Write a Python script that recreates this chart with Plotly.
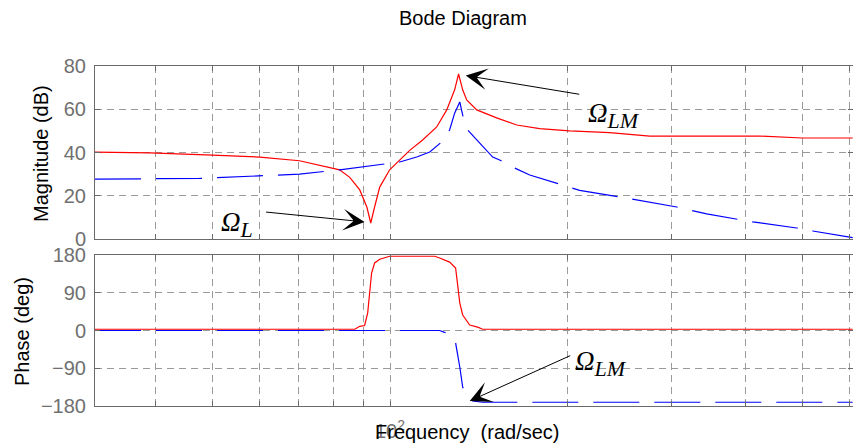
import numpy as np
import plotly.graph_objects as go

# ---------------- data ----------------
# Red: magnitude (dB) vs frequency (rad/s)
red_mag_w = [31.6, 39.1, 50.0, 60.1, 70.2, 79.0, 82.1, 85.4, 88.8, 91.3, 92.7, 94.1,
             96.0, 99.8, 103.8, 107.9, 113.5, 119.9, 124.7, 128.6, 130.6, 132.7,
             134.8, 140.2, 151.5, 163.9, 179.2, 201.5, 235.5, 275.4, 334.6, 423.0,
             500.2, 608.0]
red_mag_db = [40.2, 39.8, 38.8, 37.9, 36.2, 33.3, 32.0, 28.5, 22.7, 14.8, 7.4, 14.8,
              24.0, 32.0, 36.5, 41.0, 45.8, 51.8, 59.7, 69.0, 76.3, 69.0,
              64.3, 59.7, 56.0, 52.7, 51.0, 50.0, 49.2, 47.6, 47.6, 47.6,
              46.7, 46.7]

# Blue: magnitude (dB)
blue_mag_w = [31.6, 47.5, 70.2, 82.1, 97.9, 103.8, 110.9, 116.7, 122.3, 126.1, 128.6,
              131.2, 132.7, 135.3, 140.2, 149.2, 153.3, 162.6, 172.4, 209.5, 256.7,
              305.9, 343.9, 411.5, 488.7, 520.2, 608.0]
blue_mag_db = [27.7, 28.0, 30.0, 32.0, 34.7, 35.6, 37.9, 40.2, 44.9, 50.4, 58.2,
               63.4, 57.3, 50.4, 45.8, 37.9, 36.5, 32.8, 29.6, 22.5, 18.5,
               14.8, 11.6, 7.9, 5.1, 3.7, 0.6]

# Red: phase (deg)
red_ph_w = [31.6, 87.1, 88.8, 90.5, 91.6, 92.3, 93.0, 94.1, 96.0, 99.8, 119.0, 121.3,
            126.1, 129.1, 130.1, 131.2, 132.7, 136.4, 140.7, 143.5, 608.0]
red_ph_deg = [3, 3, 10, 12, 42, 97, 137, 161, 170, 177, 177, 173,
              163, 149, 104, 66, 37, 13, 8, 3, 3]

# Blue: phase (deg)
blue_ph_w = [31.6, 121.3, 123.3, 125.2, 127.1, 129.1, 131.2, 132.7, 135.3, 138.0, 143.5, 608.0]
blue_ph_deg = [0, 0, -4, -6, -15, -30, -87, -135, -160, -168, -171, -171]

# axes
grid_w = [40, 50, 60, 70, 80, 90, 100, 200, 300, 400, 500, 600]
mag_ticks = [0, 20, 40, 60, 80]
phase_ticks = [-180, -90, 0, 90, 180]

# ---------------- figure ----------------
W, H = 853, 446
ML, MR, MT, MB = 95, 0, 66, 40
plot_w = W - ML - MR
plot_h = H - MT - MB
px_per_decade = 590.0
x_lo = np.log10(31.6)
x_hi = x_lo + plot_w / px_per_decade

def ypaper(py):
    return (H - MB - py) / plot_h

RED = "#ff0000"
BLUE = "#0000ff"
AXC = "#6a6a6a"
GRIDC = "#9a9a9a"
TICKF = dict(family="Arial, Liberation Sans, sans-serif", size=20, color="#707070")

fig = go.Figure()
fig.add_trace(go.Scatter(x=red_mag_w, y=red_mag_db, mode="lines",
                         line=dict(color=RED, width=1.2), xaxis="x", yaxis="y", showlegend=False))
fig.add_trace(go.Scatter(x=blue_mag_w, y=blue_mag_db, mode="lines",
                         line=dict(color=BLUE, width=1.2, dash="46px,15px"),
                         xaxis="x", yaxis="y", showlegend=False))
fig.add_trace(go.Scatter(x=red_ph_w, y=red_ph_deg, mode="lines",
                         line=dict(color=RED, width=1.2), xaxis="x2", yaxis="y2", showlegend=False))
fig.add_trace(go.Scatter(x=blue_ph_w, y=blue_ph_deg, mode="lines",
                         line=dict(color=BLUE, width=1.2, dash="46px,15px"),
                         xaxis="x2", yaxis="y2", showlegend=False))

xcommon = dict(type="log", range=[x_lo, x_hi], tickvals=grid_w, showticklabels=False,
               showgrid=True, gridcolor=GRIDC, griddash="7px,5px", gridwidth=1,
               ticks="inside", ticklen=5, tickcolor=AXC, showline=True, linecolor=AXC,
               linewidth=1, mirror="ticks", zeroline=False)
ycommon = dict(showgrid=True, gridcolor=GRIDC, griddash="7px,5px", gridwidth=1,
               ticks="inside", ticklen=5, tickcolor=AXC, showline=True, linecolor=AXC,
               linewidth=1, mirror="ticks", zeroline=False, tickfont=TICKF,
               ticklabelstandoff=4)

top_bottom_px = 239
bot_top_px = 255
fig.update_layout(
    width=W, height=H, margin=dict(l=ML, r=MR, t=MT, b=MB),
    plot_bgcolor="white", paper_bgcolor="white",
    xaxis=dict(**xcommon, anchor="y"),
    xaxis2=dict(**xcommon, anchor="y2"),
    yaxis=dict(**ycommon, domain=[ypaper(top_bottom_px), 1], range=[0, 80],
               tickvals=mag_ticks, anchor="x"),
    yaxis2=dict(**ycommon, domain=[0, ypaper(bot_top_px)], range=[-180, 180],
                tickvals=phase_ticks, anchor="x2"),
)

LBL = dict(family="Arial, Liberation Sans, sans-serif", size=20, color="black")
ann = []
# tick label 10^2 (gray) under the bottom axis
ann.append(dict(text="10<sup>2</sup>", x=2, xref="x2", y=ypaper(429), yref="paper",
                showarrow=False, xanchor="center", yanchor="middle", font=TICKF))
ann.append(dict(text="Frequency\u00a0 (rad/sec)", x=(467 - ML) / plot_w, xref="paper",
                y=ypaper(432), yref="paper", showarrow=False, xanchor="center",
                yanchor="middle", font=LBL))
ann.append(dict(text="Bode Diagram", x=(463 - ML) / plot_w, xref="paper",
                y=ypaper(18), yref="paper", showarrow=False, xanchor="center",
                yanchor="middle", font=dict(family="Arial, Liberation Sans, sans-serif",
                                             size=20, color="black")))
ann.append(dict(text="Magnitude (dB)", textangle=-90, x=(41 - ML) / plot_w, xref="paper",
                y=ypaper(153), yref="paper", showarrow=False, xanchor="center",
                yanchor="middle", font=LBL))
ann.append(dict(text="Phase (deg)", textangle=-90, x=(22 - ML) / plot_w, xref="paper",
                y=ypaper(332), yref="paper", showarrow=False, xanchor="center",
                yanchor="middle", font=LBL))

OMF = dict(family="Liberation Serif, Times New Roman, serif", size=27, color="black")
def omega(sub):
    return "<i>\u03a9<sub><span style='font-size:22px'>%s</span></sub></i>" % sub

# arrows
ARW = dict(showarrow=True, arrowhead=3, arrowsize=3.6, arrowwidth=1, arrowcolor="black",
           text="", axref="pixel", ayref="pixel")
ann.append(dict(**ARW, x=np.log10(134.3), y=75.6, xref="x", yref="y", ax=115, ay=19))
ann.append(dict(**ARW, x=np.log10(90.5), y=7.9, xref="x", yref="y", ax=-100, ay=-10))
ann.append(dict(**ARW, x=np.log10(136.4), y=-168, xref="x2", yref="y2", ax=102, ay=-46))

# Omega labels
ann.append(dict(text=omega("LM"), x=np.log10(214.5), y=57.0, xref="x", yref="y",
                showarrow=False, xanchor="left", yanchor="middle", font=OMF))
ann.append(dict(text=omega("L"), x=np.log10(51.3), y=6.5, xref="x", yref="y",
                showarrow=False, xanchor="left", yanchor="middle", font=OMF))
ann.append(dict(text=omega("LM"), x=np.log10(204.5), y=-78, xref="x2", yref="y2",
                showarrow=False, xanchor="left", yanchor="middle", font=OMF))

fig.update_layout(annotations=ann)
fig.write_html("out.html")
